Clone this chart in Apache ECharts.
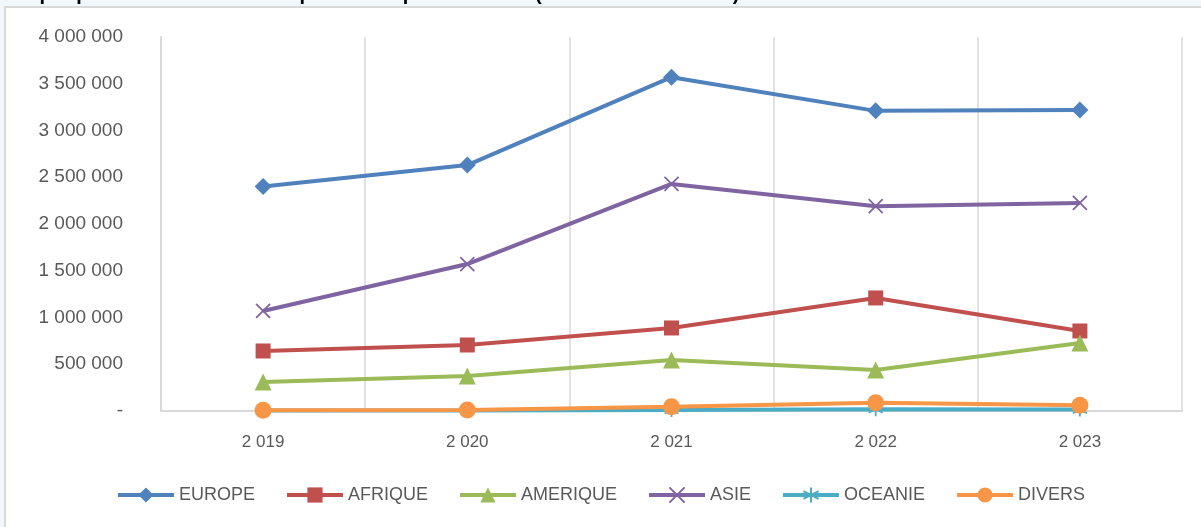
<!DOCTYPE html>
<html>
<head>
<meta charset="utf-8">
<script src="https://cdn.jsdelivr.net/npm/echarts@6/dist/echarts.min.js"></script>
<style>
  html, body { margin: 0; padding: 0; }
  #chart { width: 1201px; height: 527px; }
</style>
</head>
<body>
<div id="chart"></div>
<script>
const years = ['2 019', '2 020', '2 021', '2 022', '2 023']
const europe = [2400000, 2630000, 3570000, 3210000, 3220000]
const afrique = [642000, 706000, 888000, 1209000, 856000]
const amerique = [310000, 374000, 545000, 438000, 727000]
const asie = [1070000, 1572000, 2428000, 2190000, 2225000]
const oceanie = [5000, 5000, 10000, 20000, 15000]
const divers = [8000, 10000, 46000, 89000, 62000]

const CROSS = 'path://M0,0L10,10M10,0L0,10'
const STAR = 'path://M5,0L5,10M0.7,2.5L9.3,7.5M0.7,7.5L9.3,2.5'

const chart = echarts.init(document.getElementById('chart'), null, { renderer: 'canvas' })

function fmt(v) {
  if (v === 0) return '-'
  return String(v).replace(/\B(?=(\d{3})+(?!\d))/g, ' ')
}

function line(name, data, color, symbol, size, open) {
  return {
    name,
    type: 'line',
    data,
    symbol,
    symbolSize: size,
    lineStyle: { color, width: 4 },
    itemStyle: open
      ? { color: 'rgba(0,0,0,0)', borderColor: color, borderWidth: 1.8 }
      : { color, borderWidth: 0 },
    emphasis: { disabled: true },
  }
}

chart.setOption({
  backgroundColor: '#f1f7fa',
  animation: false,
  title: {
    text: 'Graphique 2 : Evolution des importations par continent (en millions de FCFA)',
    left: 0,
    top: -21,
    textStyle: { color: '#000', fontSize: 20, fontWeight: 'bold', fontFamily: 'Liberation Sans' },
  },
  graphic: [{
    type: 'rect',
    z: -10,
    shape: { x: 5, y: 7, width: 1200, height: 525 },
    style: { fill: '#fff', stroke: '#d9d9d9', lineWidth: 2 },
  }],
  legend: {
    bottom: 18,
    left: 'center',
    itemWidth: 56,
    itemHeight: 19,
    itemGap: 30,
    lineStyle: { width: 4 },
    textStyle: { color: '#595959', fontSize: 18, fontFamily: 'Liberation Sans' },
    data: ['EUROPE', 'AFRIQUE', 'AMERIQUE', 'ASIE', 'OCEANIE', 'DIVERS'],
  },
  grid: { left: 161, right: 19, top: 37, bottom: 116 },
  xAxis: {
    type: 'category',
    data: years,
    boundaryGap: true,
    axisLine: { lineStyle: { color: '#d9d9d9', width: 2 } },
    axisTick: { show: false },
    axisLabel: { color: '#595959', fontSize: 17, margin: 23, fontFamily: 'Liberation Sans' },
    splitLine: { show: true, lineStyle: { color: '#d9d9d9', width: 1.5 } },
  },
  yAxis: {
    type: 'value',
    min: 0,
    max: 4000000,
    interval: 500000,
    axisLine: { show: true, lineStyle: { color: '#d9d9d9', width: 2 } },
    axisTick: { show: false },
    splitLine: { show: false },
    axisLabel: { color: '#595959', fontSize: 19, margin: 38, formatter: fmt, fontFamily: 'Liberation Sans' },
  },
  series: [
    line('EUROPE', europe, '#4f81bd', 'diamond', 17),
    line('AFRIQUE', afrique, '#c0504d', 'rect', 15),
    line('AMERIQUE', amerique, '#9bbb59', 'triangle', 17),
    line('ASIE', asie, '#8064a2', CROSS, 14, true),
    line('OCEANIE', oceanie, '#4bacc6', STAR, 14, true),
    line('DIVERS', divers, '#f79646', 'circle', 17),
  ],
})
</script>
</body>
</html>
